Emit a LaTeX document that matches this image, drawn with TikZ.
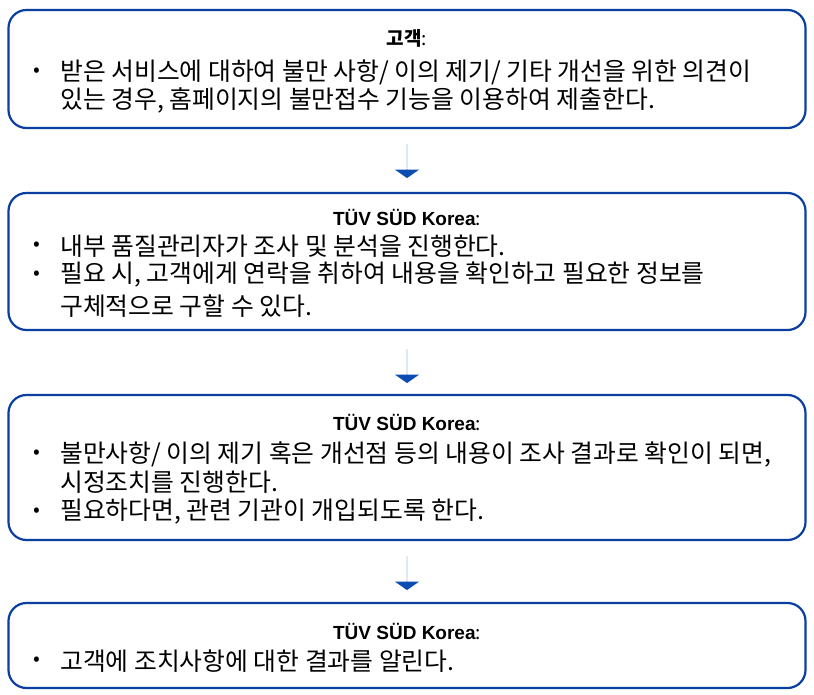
\documentclass[tikz,border=0pt]{standalone}
\usepackage{fontspec}
\setmainfont{Noto Sans CJK KR}
\newfontfamily\latinbold{Liberation Sans}
\usetikzlibrary{shapes.arrows}
\definecolor{tuvblue}{HTML}{0A3FA0}
\definecolor{arrowblue}{HTML}{0B4DB3}
\begin{document}
\begin{tikzpicture}[x=1pt,y=-1pt]
    % Stili
    \tikzset{
        box/.style={draw=tuvblue, line width=2.2pt, rounded corners=18pt, minimum width=797pt},
        title/.style={font=\fontsize{19}{21}\selectfont\bfseries, anchor=center},
        item/.style={font=\fontsize{24.8}{26}\selectfont, anchor=west, inner sep=0pt},
        bullet/.style={font=\fontsize{20}{22}\selectfont, anchor=center, inner sep=0pt},
        downarrow/.style={single arrow, draw=none, fill=arrowblue, shape border rotate=270,
            minimum width=24pt, single arrow head extend=11pt, minimum height=34pt,
            single arrow tip angle=110, inner sep=0pt}
    }
    \useasboundingbox (0,0) rectangle (814,695);

    % Riquadri
    \node[box, minimum height=118pt] (box_cliente) at (407,69) {};
    \node[box, minimum height=137pt] (box_analisi) at (407,261.5) {};
    \node[box, minimum height=145pt] (box_azione) at (407,467.5) {};
    \node[box, minimum height=85pt] (box_esito) at (407,645.5) {};

    % Frecce
    \node[downarrow] (step_a) at (407,161) {};
    \node[downarrow] (step_b) at (407,366) {};
    \node[downarrow] (step_c) at (407,573) {};

    % Primo riquadro
    \node[title] (t_cliente) at (407,38) {고객\normalfont:};
    \node[bullet] (b1) at (37,72) {•};
    \node[item] (l1a) at (60,72) {받은 서비스에 대하여 불만 사항/ 이의 제기/ 기타 개선을 위한 의견이};
    \node[item] (l1b) at (60,100) {있는 경우, 홈페이지의 불만접수 기능을 이용하여 제출한다.};

    % Secondo riquadro
    \node[title] (t_analisi) at (407,218) {\latinbold TÜV SÜD Korea\normalfont:};
    \node[bullet] (b2) at (37,246) {•};
    \node[item] (l2a) at (60,246) {내부 품질관리자가 조사 및 분석을 진행한다.};
    \node[bullet] (b3) at (37,275) {•};
    \node[item] (l2b) at (60,275) {필요 시, 고객에게 연락을 취하여 내용을 확인하고 필요한 정보를};
    \node[item] (l2c) at (60,306) {구체적으로 구할 수 있다.};

    % Terzo riquadro
    \node[title] (t_azione) at (407,423) {\latinbold TÜV SÜD Korea\normalfont:};
    \node[bullet] (b4) at (37,454) {•};
    \node[item] (l3a) at (60,454) {불만사항/ 이의 제기 혹은 개선점 등의 내용이 조사 결과로 확인이 되면,};
    \node[item] (l3b) at (60,482) {시정조치를 진행한다.};
    \node[bullet] (b5) at (37,512) {•};
    \node[item] (l3c) at (60,512) {필요하다면, 관련 기관이 개입되도록 한다.};

    % Quarto riquadro
    \node[title] (t_esito) at (407,632) {\latinbold TÜV SÜD Korea\normalfont:};
    \node[bullet] (b6) at (37,661) {•};
    \node[item] (l4a) at (60,661) {고객에 조치사항에 대한 결과를 알린다.};
\end{tikzpicture}
\end{document}
